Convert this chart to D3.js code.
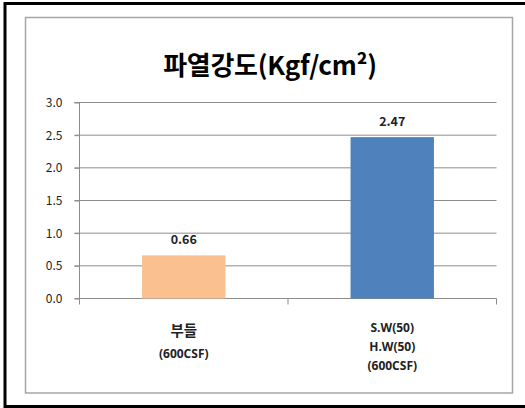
<!DOCTYPE html>
<html>
<head>
<meta charset="utf-8">
<script src="https://cdn.jsdelivr.net/npm/d3@7"></script>
<style>
  html, body { margin: 0; padding: 0; background: #fff; }
  svg { display: block; }
  text { font-family: "Noto Sans CJK KR", "Noto Sans", sans-serif; }
</style>
</head>
<body>
<svg id="chart" width="525" height="408"></svg>
<script>
// Burst strength by material
const categories = ["부들|(600CSF)", "S.W(50)|H.W(50)|(600CSF)"];
const values = [0.66, 2.47];
const barColors = ["#FAC090", "#4F81BD"];
const yTicks = [0, 0.5, 1.0, 1.5, 2.0, 2.5, 3.0];
const titleText = "파열강도(Kgf/cm²)";

const svg = d3.select("#chart");

// outer frame (black on top, left, bottom)
svg.append("rect").attr("x", 0).attr("y", 0).attr("width", 525).attr("height", 408).attr("fill", "#fff");
svg.append("path")
  .attr("d", "M525,3.5 H5 V406.5 H525")
  .attr("fill", "none").attr("stroke", "#000").attr("stroke-width", 3);

// chart area border
svg.append("rect")
  .attr("x", 25.5).attr("y", 17.5).attr("width", 487).attr("height", 375.5)
  .attr("fill", "#fff").attr("stroke", "#A6A6A6").attr("stroke-width", 1.5);

svg.append("text")
  .attr("x", 270).attr("y", 75)
  .attr("text-anchor", "middle")
  .attr("font-size", 26).attr("font-weight", "bold").attr("fill", "#000")
  .attr("letter-spacing", -0.3)
  .text(titleText);

const plotLeft = 79.5, plotRight = 496.5, plotTop = 102.5, plotBottom = 298.5;

const x = d3.scaleBand().domain(categories).range([plotLeft, plotRight]).paddingInner(0.6).paddingOuter(0.3);
const y = d3.scaleLinear().domain([0, 3]).range([plotBottom, plotTop]);

// gridlines
svg.append("g").selectAll("line").data(yTicks).join("line")
  .attr("x1", plotLeft - 5).attr("x2", plotRight)
  .attr("y1", d => y(d)).attr("y2", d => y(d))
  .attr("stroke", "#8C8C8C").attr("stroke-width", 1);

// y axis
const yAxis = d3.axisLeft(y).tickValues(yTicks).tickFormat(d3.format(".1f")).tickSize(5).tickPadding(12);
const gy = svg.append("g").attr("transform", `translate(${plotLeft},0)`).call(yAxis);
gy.select(".domain").attr("stroke", "#8C8C8C").attr("d", `M-5,${plotTop}H0V${plotBottom + 5}`);
gy.selectAll(".tick line").attr("stroke", "#8C8C8C");
gy.selectAll(".tick text").attr("font-size", 12).attr("fill", "#222")
  .attr("font-family", "'Open Sans', 'Noto Sans', sans-serif");

// category separator ticks
const sepX = [plotLeft, plotLeft + (plotRight - plotLeft) / 2, plotRight];
svg.append("g").selectAll("line").data(sepX).join("line")
  .attr("x1", d => d).attr("x2", d => d)
  .attr("y1", plotBottom).attr("y2", plotBottom + 6)
  .attr("stroke", "#8C8C8C");

// bars
svg.append("g").selectAll("rect").data(values).join("rect")
  .attr("x", (d, i) => x(categories[i]))
  .attr("width", x.bandwidth())
  .attr("y", d => y(d))
  .attr("height", d => plotBottom - y(d))
  .attr("fill", (d, i) => barColors[i]);

// value labels
svg.append("g").selectAll("text").data(values).join("text")
  .attr("x", (d, i) => x(categories[i]) + x.bandwidth() / 2)
  .attr("y", d => y(d) - 11)
  .attr("text-anchor", "middle")
  .attr("font-size", 12.5).attr("font-weight", "bold").attr("fill", "#222")
  .attr("font-family", "'Open Sans', 'Noto Sans', sans-serif")
  .text(d => d.toFixed(2));

// category labels
categories.forEach((c, i) => {
  const lines = c.split("|");
  const cx = x(c) + x.bandwidth() / 2;
  const t = svg.append("text").attr("text-anchor", "middle").attr("fill", "#222")
    .attr("font-weight", "bold");
  if (i === 0) {
    t.append("tspan").attr("x", cx).attr("y", 336).attr("font-size", 14.5).text(lines[0]);
    t.append("tspan").attr("x", cx).attr("y", 358).attr("font-size", 12)
      .attr("font-family", "'Open Sans', 'Noto Sans', sans-serif").text(lines[1]);
  } else {
    lines.forEach((l, j) => {
      t.append("tspan").attr("x", cx).attr("y", 332 + j * 19).attr("font-size", 12)
        .attr("font-family", "'Open Sans', 'Noto Sans', sans-serif").text(l);
    });
  }
});
</script>
</body>
</html>
